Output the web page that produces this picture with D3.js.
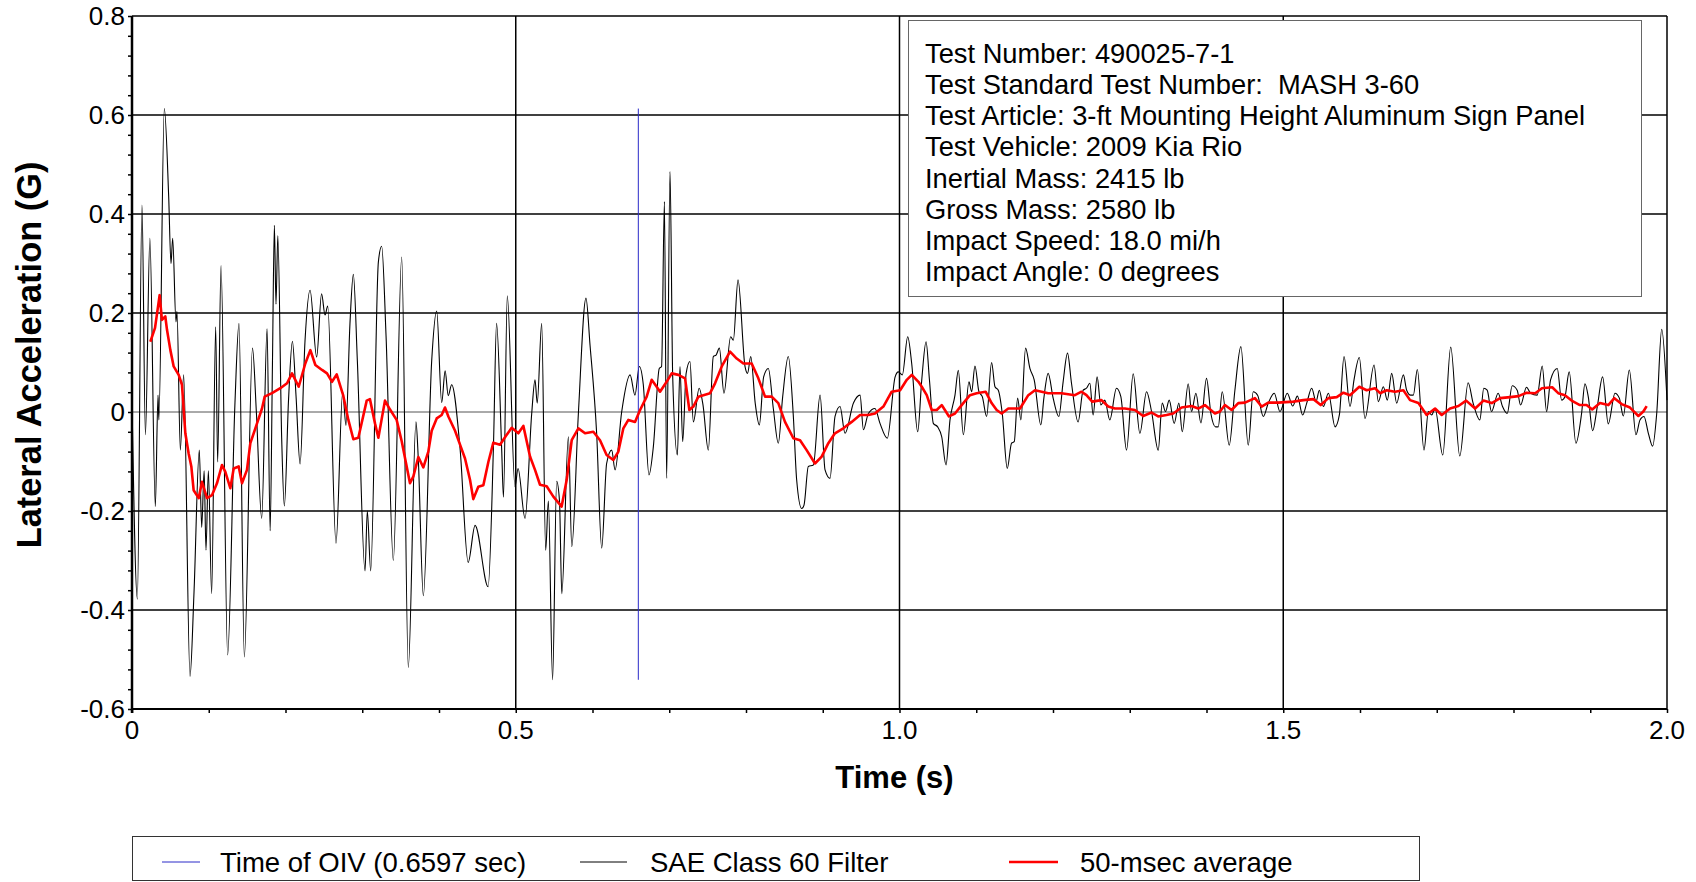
<!DOCTYPE html>
<html>
<head>
<meta charset="utf-8">
<script src="https://cdn.jsdelivr.net/npm/d3@7"></script>
<style>
  body { margin: 0; background: #fff; }
  text { font-family: "Liberation Sans", Arial, sans-serif; fill: #000; }
</style>
</head>
<body>
<div id="chart"></div>
<script>
// tick values
var xTicks = [0, 0.5, 1.0, 1.5, 2.0];
var xTickLabels = ["0", "0.5", "1.0", "1.5", "2.0"];
var yTicks = [-0.6, -0.4, -0.2, 0, 0.2, 0.4, 0.6, 0.8];
var yTickLabels = ["-0.6", "-0.4", "-0.2", "0", "0.2", "0.4", "0.6", "0.8"];

var oivTime = 0.6597;

var infoLines = [
    "Test Number: 490025-7-1",
    "Test Standard Test Number:  MASH 3-60",
    "Test Article: 3-ft Mounting Height Aluminum Sign Panel",
    "Test Vehicle: 2009 Kia Rio",
    "Inertial Mass: 2415 lb",
    "Gross Mass: 2580 lb",
    "Impact Speed: 18.0 mi/h",
    "Impact Angle: 0 degrees"
];

var legendNames = ["Time of OIV (0.6597 sec)", "SAE Class 60 Filter", "50-msec average"];

// SAE class 60 filtered trace, [time s, accel G]
var saeFilter = [
    [0.000,0.020],[0.007,-0.378],[0.013,0.418],[0.0175,-0.046],[0.0233,0.351],[0.0304,-0.191],
    [0.0339,0.034],[0.0350,-0.016],[0.0421,0.613],[0.0478,0.435],[0.0508,0.300],[0.0530,0.351],
    [0.0573,0.182],[0.0586,0.203],[0.0630,-0.077],[0.0673,0.075],[0.0756,-0.534],[0.0808,-0.364],
    [0.0877,-0.077],[0.0908,-0.233],[0.0940,-0.119],[0.0964,-0.279],[0.0995,-0.119],[0.1038,-0.367],
    [0.1090,0.172],[0.1116,-0.101],[0.1160,0.296],[0.1246,-0.491],[0.1340,0.012],[0.1394,0.179],
    [0.1464,-0.495],[0.1570,0.129],[0.1620,0.001],[0.1690,-0.215],[0.1760,0.168],[0.1800,-0.240],
    [0.1830,0.097],[0.1855,0.377],[0.1876,0.218],[0.1900,0.356],[0.1950,-0.052],[0.1985,-0.190],
    [0.2040,0.026],[0.2090,0.143],[0.2137,0.033],[0.2190,-0.105],[0.2254,0.143],[0.2320,0.246],
    [0.2406,0.111],[0.2470,0.239],[0.2515,0.196],[0.2550,0.214],[0.2658,-0.265],[0.2745,0.040],
    [0.2788,-0.027],[0.2840,0.179],[0.2884,0.278],[0.2936,0.104],[0.3036,-0.321],[0.3066,-0.200],
    [0.3110,-0.321],[0.3210,0.303],[0.3253,0.335],[0.3310,0.154],[0.3405,-0.300],[0.3514,0.313],
    [0.3600,-0.516],[0.3700,-0.020],[0.3730,-0.094],[0.3796,-0.371],[0.3905,0.104],[0.3970,0.204],
    [0.4035,0.019],[0.4080,0.083],[0.4120,0.033],[0.4165,0.055],[0.4274,-0.073],[0.4380,-0.304],
    [0.4470,-0.229],[0.4640,-0.353],[0.4710,-0.066],[0.4750,0.179],[0.4817,-0.077],[0.4840,-0.172],
    [0.4890,0.235],[0.4990,-0.151],[0.5030,-0.114],[0.5121,-0.215],[0.5208,-0.003],[0.5251,0.065],
    [0.5280,0.018],[0.5338,0.179],[0.5390,-0.279],[0.5425,-0.180],[0.5480,-0.541],[0.5533,-0.140],
    [0.5570,-0.180],[0.5600,-0.367],[0.5686,-0.050],[0.5730,-0.272],[0.5816,-0.003],[0.5915,0.230],
    [0.5968,0.135],[0.6054,-0.043],[0.6120,-0.275],[0.6184,-0.104],[0.6250,-0.077],[0.6294,-0.117],
    [0.6380,0.000],[0.6490,0.075],[0.6553,0.034],[0.6610,0.092],[0.6662,0.055],[0.6736,-0.127],
    [0.6793,-0.070],[0.6870,0.088],[0.6900,0.092],[0.6937,0.425],[0.6966,-0.134],[0.7010,0.486],
    [0.7045,0.071],[0.7106,-0.087],[0.7140,0.092],[0.7175,-0.060],[0.7220,0.078],[0.7270,0.102],
    [0.7314,-0.020],[0.7390,0.048],[0.7440,0.014],[0.7509,-0.077],[0.7574,0.112],[0.7610,0.115],
    [0.7653,0.129],[0.7713,0.038],[0.7800,0.152],[0.7835,0.145],[0.7896,0.267],[0.7987,0.092],
    [0.8020,0.078],[0.8062,0.112],[0.8120,0.018],[0.8174,-0.026],[0.8230,0.071],[0.8291,0.088],
    [0.8356,0.007],[0.8421,-0.063],[0.8478,0.031],[0.8551,0.112],[0.8617,-0.009],[0.8660,-0.137],
    [0.8725,-0.195],[0.8756,-0.188],[0.8812,-0.110],[0.8878,-0.107],[0.8965,0.034],[0.9030,-0.117],
    [0.9095,-0.134],[0.9160,-0.009],[0.9225,0.011],[0.9290,-0.043],[0.9400,0.018],[0.9486,0.034],
    [0.9530,-0.036],[0.9594,-0.003],[0.9680,0.007],[0.9746,-0.023],[0.9841,-0.053],[0.9943,0.071],
    [0.9985,0.081],[1.0037,0.075],[1.0107,0.152],[1.0159,0.098],[1.0237,-0.040],[1.0290,0.065],
    [1.0346,0.142],[1.0390,0.065],[1.0441,-0.023],[1.0497,-0.030],[1.0550,-0.050],[1.0606,-0.107],
    [1.0658,-0.016],[1.0723,0.034],[1.0766,0.084],[1.0832,-0.046],[1.0905,0.061],[1.0940,0.041],
    [1.0983,0.093],[1.1035,0.041],[1.1079,0.031],[1.1135,-0.009],[1.1200,0.100],[1.1244,0.051],
    [1.1287,0.044],[1.1339,-0.003],[1.1404,-0.114],[1.1460,-0.063],[1.1495,-0.060],[1.1539,0.028],
    [1.1582,-0.016],[1.1643,0.129],[1.1699,0.088],[1.1755,0.065],[1.1842,-0.026],[1.1881,0.028],
    [1.1937,0.078],[1.2002,0.028],[1.2076,-0.009],[1.2132,0.061],[1.2189,0.119],[1.2241,0.058],
    [1.2327,-0.020],[1.2393,0.044],[1.2436,0.048],[1.2480,0.058],[1.2523,-0.006],[1.2575,0.071],
    [1.2623,0.014],[1.2675,0.024],[1.2740,-0.016],[1.2827,0.048],[1.2884,0.031],[1.2958,-0.077],
    [1.3045,0.077],[1.3132,-0.043],[1.3219,0.041],[1.3284,0.001],[1.3371,-0.077],[1.3423,0.018],
    [1.3466,0.001],[1.3514,0.024],[1.3579,-0.023],[1.3640,0.018],[1.3684,-0.040],[1.3762,0.057],
    [1.3805,0.001],[1.3862,0.038],[1.3927,-0.022],[1.4000,0.068],[1.4057,-0.003],[1.4118,-0.030],
    [1.4153,-0.030],[1.4205,0.041],[1.4296,-0.067],[1.4370,0.044],[1.4448,0.132],[1.4544,-0.067],
    [1.4609,0.041],[1.4666,0.034],[1.4740,-0.009],[1.4805,0.018],[1.4883,0.038],[1.4957,0.001],
    [1.5053,0.038],[1.5123,0.012],[1.5184,0.032],[1.5253,-0.006],[1.5306,0.018],[1.5371,0.048],
    [1.5427,0.021],[1.5470,0.044],[1.5523,0.011],[1.5588,0.038],[1.5675,-0.030],[1.5731,-0.006],
    [1.5792,0.112],[1.5870,0.011],[1.5922,0.065],[1.5991,0.110],[1.6065,-0.013],[1.6183,0.095],
    [1.6239,0.021],[1.6304,0.051],[1.6356,0.024],[1.6413,0.078],[1.6478,0.018],[1.6565,0.075],
    [1.6608,0.044],[1.6660,0.034],[1.6695,0.034],[1.6747,0.086],[1.6834,-0.077],[1.6891,0.001],
    [1.6934,-0.006],[1.6978,0.007],[1.7078,-0.087],[1.7182,0.131],[1.7300,-0.089],[1.7409,0.059],
    [1.7474,0.018],[1.7561,-0.016],[1.7613,0.048],[1.7657,0.044],[1.7713,0.001],[1.7800,0.038],
    [1.7857,0.011],[1.7918,-0.003],[1.7983,0.053],[1.8048,0.044],[1.8092,0.014],[1.8170,0.050],
    [1.8222,0.038],[1.8309,0.034],[1.8374,0.093],[1.8431,0.001],[1.8483,0.065],[1.8570,0.088],
    [1.8627,0.024],[1.8670,0.031],[1.8726,0.081],[1.8813,-0.063],[1.8887,-0.003],[1.8931,0.057],
    [1.8974,0.031],[1.9031,-0.038],[1.9092,0.011],[1.9161,0.071],[1.9235,-0.024],[1.9322,0.038],
    [1.9379,0.028],[1.9431,-0.008],[1.9509,0.085],[1.9596,-0.046],[1.9648,-0.016],[1.9700,-0.009],
    [1.9757,-0.043],[1.9813,-0.069],[1.9866,-0.003],[1.9931,0.167],[2.0000,0.024]
];

// 50 ms moving average, [time s, accel G]
var avg50 = [
    [0.0239,0.142],[0.0300,0.170],[0.0360,0.236],[0.0390,0.186],[0.0434,0.193],[0.0456,0.166],
    [0.0500,0.125],[0.0543,0.092],[0.0608,0.075],[0.0651,0.055],[0.0695,-0.043],[0.0738,-0.084],
    [0.0773,-0.110],[0.0803,-0.158],[0.0869,-0.174],[0.0912,-0.141],[0.0977,-0.174],[0.1042,-0.168],
    [0.1107,-0.144],[0.1173,-0.107],[0.1216,-0.121],[0.1281,-0.154],[0.1325,-0.114],[0.1390,-0.110],
    [0.1433,-0.144],[0.1498,-0.117],[0.1542,-0.063],[0.1629,-0.023],[0.1694,0.007],[0.1729,0.031],
    [0.1824,0.038],[0.1933,0.048],[0.2020,0.058],[0.2085,0.078],[0.2128,0.065],[0.2172,0.051],
    [0.2258,0.098],[0.2324,0.125],[0.2389,0.095],[0.2476,0.085],[0.2541,0.078],[0.2606,0.061],
    [0.2667,0.076],[0.2753,0.033],[0.2819,-0.016],[0.2884,-0.055],[0.2949,-0.052],[0.3058,0.023],
    [0.3100,0.026],[0.3166,-0.023],[0.3210,-0.052],[0.3296,0.023],[0.3362,0.005],[0.3448,-0.016],
    [0.3514,-0.059],[0.3622,-0.144],[0.3666,-0.130],[0.3731,-0.091],[0.3796,-0.112],[0.3861,-0.080],
    [0.3905,-0.038],[0.3970,-0.013],[0.4035,-0.006],[0.4078,0.009],[0.4122,-0.009],[0.4209,-0.038],
    [0.4274,-0.066],[0.4339,-0.094],[0.4404,-0.137],[0.4447,-0.176],[0.4512,-0.151],[0.4578,-0.148],
    [0.4643,-0.101],[0.4708,-0.062],[0.4795,-0.066],[0.4873,-0.048],[0.4947,-0.032],[0.5034,-0.043],
    [0.5099,-0.028],[0.5186,-0.090],[0.5251,-0.117],[0.5316,-0.147],[0.5403,-0.150],[0.5490,-0.171],
    [0.5598,-0.191],[0.5664,-0.137],[0.5729,-0.057],[0.5816,-0.033],[0.5903,-0.043],[0.6011,-0.040],
    [0.6098,-0.057],[0.6184,-0.087],[0.6271,-0.097],[0.6337,-0.080],[0.6402,-0.033],[0.6467,-0.016],
    [0.6554,-0.020],[0.6620,0.004],[0.6706,0.031],[0.6771,0.065],[0.6836,0.051],[0.6880,0.041],
    [0.6966,0.061],[0.7032,0.078],[0.7119,0.075],[0.7206,0.068],[0.7262,0.004],[0.7314,0.011],
    [0.7380,0.031],[0.7445,0.034],[0.7532,0.038],[0.7597,0.058],[0.7684,0.092],[0.7792,0.122],
    [0.7879,0.108],[0.7966,0.098],[0.8074,0.098],[0.8161,0.068],[0.8248,0.031],[0.8335,0.031],
    [0.8421,0.018],[0.8508,-0.020],[0.8617,-0.053],[0.8704,-0.057],[0.8790,-0.077],[0.8899,-0.104],
    [0.8986,-0.090],[0.9073,-0.063],[0.9159,-0.043],[0.9268,-0.033],[0.9377,-0.020],[0.9486,-0.006],
    [0.9594,-0.006],[0.9680,-0.003],[0.9790,0.011],[0.9898,0.041],[1.0008,0.044],[1.0095,0.065],
    [1.0160,0.075],[1.0247,0.061],[1.0290,0.051],[1.0355,0.034],[1.0420,0.004],[1.0485,0.004],
    [1.0550,0.014],[1.0645,-0.009],[1.0723,-0.003],[1.0810,0.014],[1.0918,0.034],[1.1005,0.038],
    [1.1122,0.041],[1.1200,0.018],[1.1266,0.004],[1.1331,-0.003],[1.1418,0.007],[1.1570,0.007],
    [1.1678,0.034],[1.1765,0.044],[1.1852,0.041],[1.1937,0.038],[1.2111,0.038],[1.2285,0.034],
    [1.2372,0.041],[1.2436,0.034],[1.2510,0.021],[1.2632,0.024],[1.2719,0.011],[1.2806,0.007],
    [1.2936,0.007],[1.3067,0.004],[1.3175,-0.008],[1.3284,-0.001],[1.3371,-0.009],[1.3479,-0.006],
    [1.3566,-0.003],[1.3675,0.009],[1.3805,0.012],[1.3892,0.007],[1.3979,0.014],[1.4110,-0.003],
    [1.4175,0.001],[1.4240,0.014],[1.4327,0.004],[1.4414,0.018],[1.4501,0.019],[1.4631,0.028],
    [1.4718,0.011],[1.4805,0.019],[1.4935,0.019],[1.5132,0.021],[1.5262,0.024],[1.5393,0.026],
    [1.5488,0.014],[1.5588,0.028],[1.5697,0.030],[1.5784,0.039],[1.5870,0.034],[1.5991,0.051],
    [1.6087,0.044],[1.6196,0.048],[1.6261,0.038],[1.6348,0.044],[1.6456,0.041],[1.6565,0.044],
    [1.6652,0.024],[1.6761,0.018],[1.6869,-0.006],[1.6978,0.007],[1.7065,-0.006],[1.7174,0.007],
    [1.7282,0.012],[1.7383,0.023],[1.7500,0.007],[1.7609,0.023],[1.7717,0.018],[1.7826,0.028],
    [1.7957,0.030],[1.8066,0.032],[1.8170,0.039],[1.8283,0.038],[1.8370,0.048],[1.8504,0.050],
    [1.8583,0.038],[1.8670,0.034],[1.8757,0.023],[1.8865,0.014],[1.8952,0.014],[1.9026,0.005],
    [1.9126,0.018],[1.9235,0.014],[1.9314,0.028],[1.9409,0.016],[1.9518,0.009],[1.9627,-0.008],
    [1.9692,0.001],[1.9735,0.012]
];

function init(){
    var w = 1696;
    var h = 882;
    var left = 132, right = 1667, top = 16, bottom = 709;

    var x = d3.scaleLinear().domain([0, 2]).range([left, right]);
    var y = d3.scaleLinear().domain([-0.6, 0.8]).range([bottom, top]);

    var svg = d3.select("#chart")
                .append("svg")
                .attr("width", w)
                .attr("height", h)
                .style("background-color", "#fff");

    // horizontal grid lines
    svg.selectAll(".hgrid")
        .data(yTicks)
        .enter()
        .append("line")
        .attr("x1", left)
        .attr("x2", right)
        .attr("y1", function(d){ return y(d); })
        .attr("y2", function(d){ return y(d); })
        .attr("stroke", function(d){ return d === 0 ? "#555" : "#000"; })
        .attr("stroke-width", function(d){ return d === 0 ? 1 : 1.5; });

    // vertical grid lines
    svg.selectAll(".vgrid")
        .data(xTicks.slice(1))
        .enter()
        .append("line")
        .attr("x1", function(d){ return x(d); })
        .attr("x2", function(d){ return x(d); })
        .attr("y1", top)
        .attr("y2", bottom)
        .attr("stroke", "#000")
        .attr("stroke-width", 1.5);

    // minor ticks
    var xMinor = d3.axisBottom(x).tickValues(d3.range(0, 2.0001, 0.1)).tickSize(4).tickFormat("");
    var gx = svg.append("g").attr("transform", "translate(0," + bottom + ")").call(xMinor);
    gx.select(".domain").remove();
    gx.selectAll("line").attr("stroke", "#000").attr("stroke-width", 1.5);

    var yMinor = d3.axisLeft(y).tickValues(d3.range(-0.6, 0.8001, 0.04)).tickSize(4).tickFormat("");
    var gy = svg.append("g").attr("transform", "translate(" + left + ",0)").call(yMinor);
    gy.select(".domain").remove();
    gy.selectAll("line").attr("stroke", "#000").attr("stroke-width", 1.5);

    // tick labels
    svg.selectAll(".xlab")
        .data(xTicks)
        .enter()
        .append("text")
        .attr("x", function(d){ return x(d); })
        .attr("y", 739)
        .attr("text-anchor", "middle")
        .style("font-size", "26px")
        .text(function(d, i){ return xTickLabels[i]; });

    svg.selectAll(".ylab")
        .data(yTicks)
        .enter()
        .append("text")
        .attr("x", left - 7)
        .attr("y", function(d){ return y(d); })
        .attr("dy", "0.36em")
        .attr("text-anchor", "end")
        .style("font-size", "26px")
        .text(function(d, i){ return yTickLabels[i]; });

    // axis titles
    svg.append("text")
        .attr("x", (left + right) / 2 - 5)
        .attr("y", 788)
        .attr("text-anchor", "middle")
        .style("font-size", "31px")
        .style("font-weight", "bold")
        .text("Time (s)");

    svg.append("text")
        .attr("transform", "translate(41," + 355 + ") rotate(-90)")
        .attr("text-anchor", "middle")
        .style("font-size", "34.4px")
        .style("font-weight", "bold")
        .text("Lateral Acceleration (G)");

    // data lines
    var line = d3.line()
        .x(function(d){ return x(d[0]); })
        .y(function(d){ return y(d[1]); });

    svg.append("path")
        .datum(saeFilter)
        .attr("d", line.curve(d3.curveMonotoneX))
        .attr("fill", "none")
        .attr("stroke", "#000")
        .attr("stroke-width", 1.1);

    var ext = d3.extent(saeFilter, function(d){ return d[1]; });
    svg.append("line")
        .attr("x1", x(oivTime))
        .attr("x2", x(oivTime))
        .attr("y1", y(ext[1]))
        .attr("y2", y(ext[0]))
        .attr("stroke", "#2a2ac8")
        .attr("stroke-width", 1);

    svg.append("path")
        .datum(avg50)
        .attr("d", d3.line()
                .x(function(d){ return x(d[0]); })
                .y(function(d){ return y(d[1]); })
                .curve(d3.curveLinear))
        .attr("fill", "none")
        .attr("stroke", "#ff0000")
        .attr("stroke-width", 2.6)
        .attr("stroke-linejoin", "round");

    // axes lines
    svg.append("line").attr("x1", left).attr("x2", left).attr("y1", top).attr("y2", bottom + 4)
        .attr("stroke", "#000").attr("stroke-width", 2.5);
    svg.append("line").attr("x1", left).attr("x2", right).attr("y1", bottom).attr("y2", bottom)
        .attr("stroke", "#000").attr("stroke-width", 2.2);

    // info box
    var box = svg.append("g");
    box.append("rect")
        .attr("x", 908.5)
        .attr("y", 20.5)
        .attr("width", 733)
        .attr("height", 276)
        .attr("fill", "#fff")
        .attr("stroke", "#666")
        .attr("stroke-width", 1);
    box.selectAll("text")
        .data(infoLines)
        .enter()
        .append("text")
        .attr("x", 925)
        .attr("y", function(d, i){ return 62.7 + i * 31.2; })
        .style("font-size", "27.3px")
        .style("white-space", "pre")
        .text(function(d){ return d; });

    // legend
    var leg = svg.append("g");
    leg.append("rect")
        .attr("x", 132.5)
        .attr("y", 836.5)
        .attr("width", 1287)
        .attr("height", 44)
        .attr("fill", "#fff")
        .attr("stroke", "#333")
        .attr("stroke-width", 1);

    var legColors = ["#2a2ac8", "#000", "#ff0000"];
    var legWidths = [1, 1, 2.6];
    var legX1 = [162, 580, 1009];
    var legX2 = [200, 627, 1058];
    var legTextX = [220, 650, 1080];
    legendNames.forEach(function(name, i){
        leg.append("line")
            .attr("x1", legX1[i])
            .attr("x2", legX2[i])
            .attr("y1", 862)
            .attr("y2", 862)
            .attr("stroke", legColors[i])
            .attr("stroke-width", legWidths[i]);
        leg.append("text")
            .attr("x", legTextX[i])
            .attr("y", 872)
            .style("font-size", "27.5px")
            .text(name);
    });
}
window.onload = init;
</script>
</body>
</html>
